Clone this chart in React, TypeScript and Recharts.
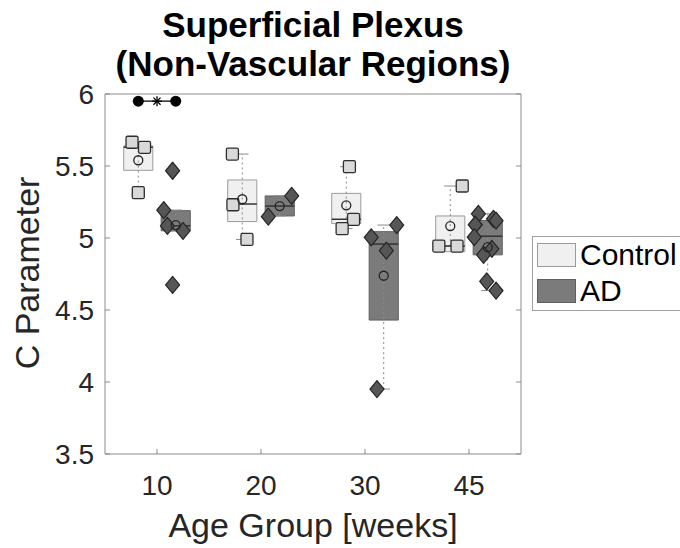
import React from "react";
import {
  ComposedChart,
  ReferenceArea,
  ReferenceLine,
  Scatter,
  XAxis,
  YAxis,
} from "recharts";

const FONT = "'Liberation Sans', Arial, Helvetica, sans-serif";

const GROUPS = ["10", "20", "30", "45"];
const Y_TICKS = [3.5, 4, 4.5, 5, 5.5, 6];

// per-animal values
const controlValues = [
  [5.665, 5.63, 5.315],
  [5.583, 5.231, 4.99],
  [5.495, 5.13, 5.065],
  [5.361, 4.944, 4.944],
];
const adValues = [
  [5.467, 5.194, 5.085, 5.049, 4.674],
  [5.292, 5.148],
  [5.09, 5.005, 4.912, 3.951],
  [5.168, 5.133, 5.092, 5.12, 5.006, 4.925, 4.883, 4.698, 4.635],
];
// horizontal jitter of each point, fraction of a category
const controlJitter = [
  [-0.06, 0.06, 0.0],
  [-0.095, -0.09, 0.045],
  [0.03, 0.07, -0.04],
  [0.115, -0.11, 0.065],
];
const adJitter = [
  [-0.03, -0.115, -0.08, 0.07, -0.03],
  [0.115, -0.11],
  [0.125, -0.12, 0.025, -0.065],
  [-0.09, 0.055, -0.12, 0.08, -0.13, 0.04, -0.04, -0.01, 0.08],
];

// box statistics
const controlQ1 = [5.47, 5.114, 5.1, 4.905];
const controlMedian = [5.63, 5.236, 5.13, 4.944];
const controlQ3 = [5.64, 5.403, 5.31, 5.153];
const controlLow = [5.315, 4.99, 5.065, 4.944];
const controlHigh = [5.665, 5.583, 5.495, 5.361];
const controlMean = [5.54, 5.269, 5.227, 5.083];

const adQ1 = [5.05, 5.153, 4.43, 4.883];
const adMedian = [5.085, 5.222, 4.958, 5.0125];
const adQ3 = [5.19, 5.292, 5.044, 5.122];
const adLow = [5.049, 5.153, 3.951, 4.635];
const adHigh = [5.194, 5.292, 5.09, 5.168];
const adMean = [5.09, 5.222, 4.738, 4.936];

// significance bar between control and AD at 10 weeks
const sigGroup = 1;
const sigY = 5.95;

const OFFSET = 0.18;
const HALF = 0.14;
const CAP = 0.06;

type Series = {
  key: string;
  sign: number;
  values: number[][];
  jitter: number[][];
  q1: number[];
  median: number[];
  q3: number[];
  low: number[];
  high: number[];
  mean: number[];
  boxFill: string;
  boxStroke: string;
};

const SERIES: Series[] = [
  {
    key: "control",
    sign: -1,
    values: controlValues,
    jitter: controlJitter,
    q1: controlQ1,
    median: controlMedian,
    q3: controlQ3,
    low: controlLow,
    high: controlHigh,
    mean: controlMean,
    boxFill: "#f0f0f0",
    boxStroke: "#9a9a9a",
  },
  {
    key: "ad",
    sign: 1,
    values: adValues,
    jitter: adJitter,
    q1: adQ1,
    median: adMedian,
    q3: adQ3,
    low: adLow,
    high: adHigh,
    mean: adMean,
    boxFill: "#7b7b7b",
    boxStroke: "#5f5f5f",
  },
];

function pointsOf(s: Series) {
  return s.values.flatMap((vals, g) =>
    vals.map((v, i) => ({ x: g + 1 + s.sign * OFFSET + s.jitter[g][i], y: v }))
  );
}

function meansOf(s: Series) {
  return s.mean.map((m, g) => ({ x: g + 1 + s.sign * OFFSET, y: m }));
}

const Square = (p: any) => (
  <rect
    x={p.cx - 6}
    y={p.cy - 6}
    width={12}
    height={12}
    rx={1.5}
    fill="#d9d9d9"
    stroke="#2e2e2e"
    strokeWidth={1.3}
  />
);

const Diamond = (p: any) => (
  <path
    d={`M${p.cx},${p.cy - 8.5} L${p.cx + 7},${p.cy} L${p.cx},${p.cy + 8.5} L${p.cx - 7},${p.cy} Z`}
    fill="#565656"
    stroke="#262626"
    strokeWidth={1.2}
    strokeLinejoin="round"
  />
);

const MeanCircle = (p: any) => (
  <circle cx={p.cx} cy={p.cy} r={4.5} fill="none" stroke="#222" strokeWidth={1.3} />
);

const SigDot = (p: any) => <circle cx={p.cx} cy={p.cy} r={5.5} fill="#000" />;

const SigStar = (p: any) => (
  <g stroke="#000" strokeWidth={1.3}>
    {[0, 45, 90, 135].map((a) => {
      const r = (a * Math.PI) / 180;
      return (
        <line
          key={a}
          x1={p.cx - 5 * Math.cos(r)}
          y1={p.cy - 5 * Math.sin(r)}
          x2={p.cx + 5 * Math.cos(r)}
          y2={p.cy + 5 * Math.sin(r)}
        />
      );
    })}
  </g>
);

const BottomTick = (p: any) => (
  <g>
    <line x1={p.x} y1={p.y} x2={p.x} y2={p.y - 5} stroke="#8c8c8c" />
    <text x={p.x} y={p.y + 41} textAnchor="middle" fontSize={28} fill="#262626" fontFamily={FONT}>
      {GROUPS[p.payload.value - 1]}
    </text>
  </g>
);

const TopTick = (p: any) => (
  <line x1={p.x} y1={p.y} x2={p.x} y2={p.y + 5} stroke="#8c8c8c" />
);

const LeftTick = (p: any) => (
  <g>
    <line x1={p.x} y1={p.y} x2={p.x + 5} y2={p.y} stroke="#8c8c8c" />
    <text x={p.x - 11} y={p.y + 10} textAnchor="end" fontSize={28} fill="#262626" fontFamily={FONT}>
      {String(p.payload.value)}
    </text>
  </g>
);

const RightTick = (p: any) => (
  <line x1={p.x} y1={p.y} x2={p.x - 5} y2={p.y} stroke="#8c8c8c" />
);

export default function App() {
  const sigPoints = [
    { x: sigGroup - OFFSET, y: sigY },
    { x: sigGroup + OFFSET, y: sigY },
  ];
  return (
    <div
      style={{
        position: "absolute",
        left: 0,
        top: 0,
        width: 680,
        height: 548,
        overflow: "hidden",
        background: "#fff",
        fontFamily: FONT,
      }}
    >
      <div
        style={{
          position: "absolute",
          left: 63,
          width: 500,
          top: 5,
          textAlign: "center",
          fontWeight: "bold",
          fontSize: 35,
          lineHeight: "39px",
          color: "#000",
          whiteSpace: "nowrap",
        }}
      >
        <div>Superficial Plexus</div>
        <div>(Non-Vascular Regions)</div>
      </div>

      <ComposedChart
        width={680}
        height={548}
        margin={{ top: 84, right: 149, bottom: 54, left: 65 }}
      >
        <XAxis
          type="number"
          dataKey="x"
          domain={[0.5, 4.5]}
          ticks={[1, 2, 3, 4]}
          allowDataOverflow
          height={40}
          tickSize={0}
          tickMargin={0}
          stroke="#8c8c8c"
          tick={<BottomTick />}
        />
        <XAxis
          xAxisId="top"
          orientation="top"
          type="number"
          domain={[0.5, 4.5]}
          ticks={[1, 2, 3, 4]}
          allowDataOverflow
          height={10}
          tickSize={0}
          tickMargin={0}
          stroke="#8c8c8c"
          tick={<TopTick />}
        />
        <YAxis
          type="number"
          dataKey="y"
          domain={[3.5, 6]}
          ticks={Y_TICKS}
          allowDataOverflow
          width={40}
          tickSize={0}
          tickMargin={0}
          stroke="#8c8c8c"
          tick={<LeftTick />}
        />
        <YAxis
          yAxisId="right"
          orientation="right"
          type="number"
          domain={[3.5, 6]}
          ticks={Y_TICKS}
          allowDataOverflow
          width={10}
          tickSize={0}
          tickMargin={0}
          stroke="#8c8c8c"
          tick={<RightTick />}
        />

        {SERIES.flatMap((s) =>
          GROUPS.map((_, g) => {
            const c = g + 1 + s.sign * OFFSET;
            return (
              <ReferenceLine
                key={`${s.key}-wl-${g}`}
                segment={[
                  { x: c, y: s.low[g] },
                  { x: c, y: s.high[g] },
                ]}
                stroke="#8a8a8a"
                strokeDasharray="2 3"
              />
            );
          })
        )}
        {SERIES.flatMap((s) =>
          GROUPS.flatMap((_, g) => {
            const c = g + 1 + s.sign * OFFSET;
            return [s.low[g], s.high[g]].map((v, k) => (
              <ReferenceLine
                key={`${s.key}-cap-${g}-${k}`}
                segment={[
                  { x: c - CAP, y: v },
                  { x: c + CAP, y: v },
                ]}
                stroke="#8a8a8a"
              />
            ));
          })
        )}
        {SERIES.flatMap((s) =>
          GROUPS.map((_, g) => {
            const c = g + 1 + s.sign * OFFSET;
            return (
              <ReferenceArea
                key={`${s.key}-box-${g}`}
                x1={c - HALF}
                x2={c + HALF}
                y1={s.q1[g]}
                y2={s.q3[g]}
                fill={s.boxFill}
                fillOpacity={1}
                stroke={s.boxStroke}
                strokeWidth={1}
              />
            );
          })
        )}
        {SERIES.flatMap((s) =>
          GROUPS.map((_, g) => {
            const c = g + 1 + s.sign * OFFSET;
            return (
              <ReferenceLine
                key={`${s.key}-med-${g}`}
                segment={[
                  { x: c - HALF, y: s.median[g] },
                  { x: c + HALF, y: s.median[g] },
                ]}
                stroke="#333"
                strokeWidth={1.5}
              />
            );
          })
        )}

        <Scatter data={pointsOf(SERIES[0])} shape={<Square />} isAnimationActive={false} />
        <Scatter data={pointsOf(SERIES[1])} shape={<Diamond />} isAnimationActive={false} />
        <Scatter data={meansOf(SERIES[0])} shape={<MeanCircle />} isAnimationActive={false} />
        <Scatter data={meansOf(SERIES[1])} shape={<MeanCircle />} isAnimationActive={false} />

        <Scatter
          data={sigPoints}
          shape={<SigDot />}
          line={{ stroke: "#000", strokeWidth: 1.3 }}
          isAnimationActive={false}
        />
        <Scatter data={[{ x: sigGroup, y: sigY }]} shape={<SigStar />} isAnimationActive={false} />
      </ComposedChart>

      <div
        style={{
          position: "absolute",
          left: 27,
          top: 273,
          transform: "translate(-50%, -50%) rotate(-90deg)",
          fontSize: 34,
          lineHeight: "34px",
          color: "#262626",
          whiteSpace: "nowrap",
        }}
      >
        C Parameter
      </div>
      <div
        style={{
          position: "absolute",
          left: 63,
          width: 500,
          top: 508,
          textAlign: "center",
          fontSize: 34,
          lineHeight: "34px",
          color: "#262626",
          whiteSpace: "nowrap",
        }}
      >
        Age Group [weeks]
      </div>

      <div
        style={{
          position: "absolute",
          left: 532,
          top: 236,
          width: 170,
          height: 75,
          border: "1px solid #a0a0a0",
          boxSizing: "border-box",
          background: "#fff",
        }}
      >
        {[
          { label: "Control", fill: "#f0f0f0", stroke: "#9a9a9a" },
          { label: "AD", fill: "#7b7b7b", stroke: "#5f5f5f" },
        ].map((item, i) => (
          <div
            key={item.label}
            style={{
              position: "absolute",
              left: 4,
              top: 6 + i * 36,
              display: "flex",
              alignItems: "center",
              height: 24,
            }}
          >
            <div
              style={{
                width: 39,
                height: 24,
                boxSizing: "border-box",
                background: item.fill,
                border: `1px solid ${item.stroke}`,
              }}
            />
            <span style={{ marginLeft: 4, fontSize: 30, color: "#000", lineHeight: "24px" }}>
              {item.label}
            </span>
          </div>
        ))}
      </div>
    </div>
  );
}
